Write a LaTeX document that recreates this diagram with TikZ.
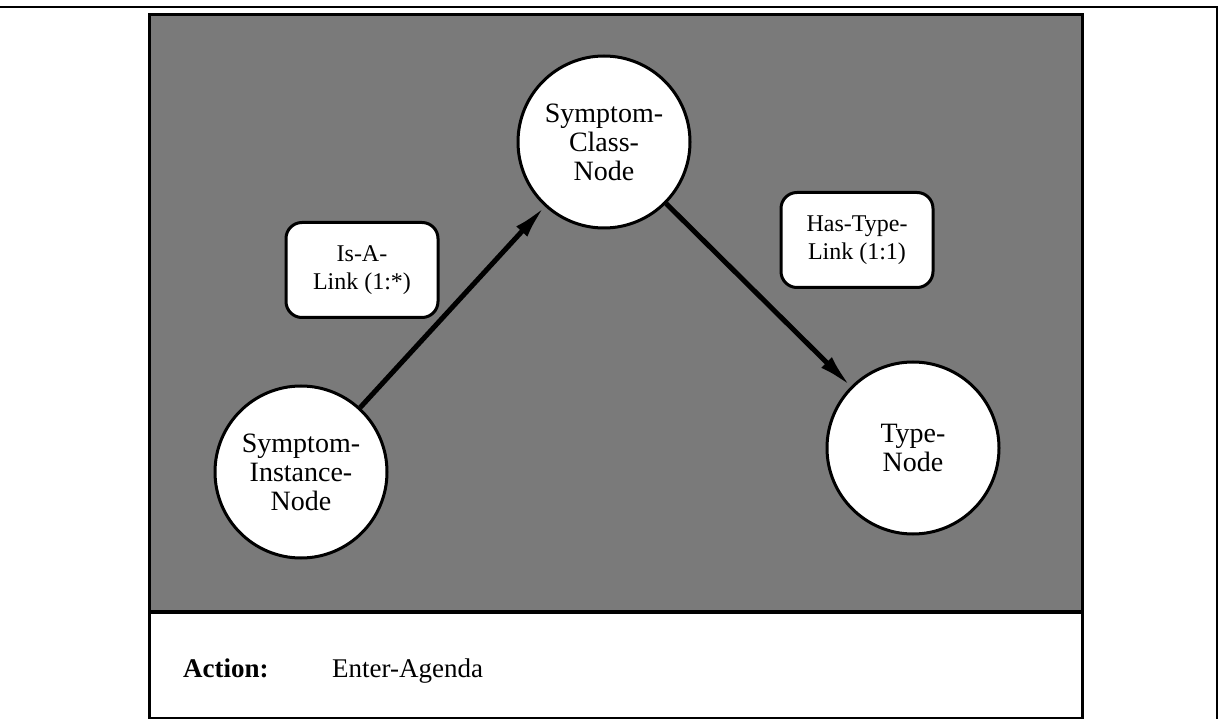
\documentclass[tikz,border=0pt]{standalone}
\usepackage{fontspec}
\setmainfont{Liberation Serif}
\definecolor{screengray}{RGB}{122, 122, 122}
\usepackage{tikz}
\usetikzlibrary{shapes, arrows.meta, positioning, calc}

\begin{document}
\begin{tikzpicture}[x=1pt, y=-1pt,
    conceptball/.style={circle, draw=black, line width=3pt, fill=white, minimum size=172pt, inner sep=0pt, align=center, font=\fontsize{28}{29}\selectfont},
    linkbox/.style={draw=black, line width=3pt, fill=white, rounded corners=16pt, minimum width=152pt, minimum height=95pt, inner sep=0pt, align=center, font=\fontsize{24}{28}\selectfont},
    linkarrow/.style={line width=5pt, -{Latex[length=34pt, width=15pt]}},
    actiontext/.style={anchor=base west, inner sep=0pt, font=\fontsize{27}{30}\selectfont}]
  \useasboundingbox (0,0) rectangle (1219,719);
  \draw[line width=2pt] (0,7) -- (1217,7) -- (1217,719);
  \fill[screengray] (149,15) rectangle (1082,612);
  \draw[line width=3pt] (149,15) rectangle (1082,718);
  \draw[line width=4pt] (149,612) -- (1082,612);

  \node[conceptball] (classnode) at (604,142) {Symptom-\\Class-\\Node};
  \node[conceptball] (instnode) at (301,472) {Symptom-\\Instance-\\Node};
  \node[conceptball] (typenode) at (913,448) {Type-\\Node};

  \node[linkbox] (isalink) at (362,270) {Is-A-\\Link (1:*)};
  \node[linkbox] (hastypelink) at (857,240) {Has-Type-\\Link (1:1)};

  \draw[linkarrow] (instnode) -- (classnode);
  \draw[linkarrow] (classnode) -- (typenode);

  \node[actiontext, font=\fontsize{27}{30}\selectfont\bfseries] (actionlabel) at (183,677) {Action:};
  \node[actiontext] (actionvalue) at (332,677) {Enter-Agenda};
\end{tikzpicture}
\end{document}
